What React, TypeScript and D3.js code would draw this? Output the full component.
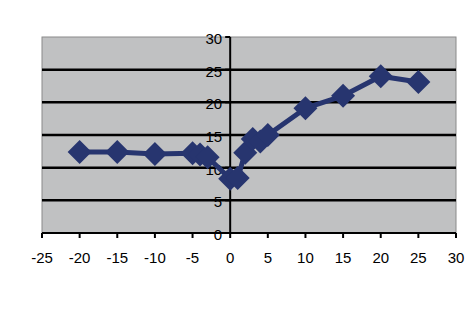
import React from "react";
import * as d3 from "d3";

const xValues = [-20, -15, -10, -5, -4, -3, 0, 1, 2, 3, 4, 5, 10, 15, 20, 25];
const yValues = [12.4, 12.4, 12.1, 12.2, 12.0, 11.6, 8.3, 8.4, 12.3, 14.4, 14.0, 15.0, 19.1, 21.0, 24.0, 23.1];
const xTicks = [-25, -20, -15, -10, -5, 0, 5, 10, 15, 20, 25, 30];
const yTicks = [0, 5, 10, 15, 20, 25, 30];

const W = 472;
const H = 333;
const left = 42;
const right = 456;
const top = 37;
const bottom = 233;
const navy = "#27356f";
const font = "'Liberation Sans', Arial, sans-serif";

export default function App() {
  const x = d3.scaleLinear().domain([-25, 30]).range([left, right]);
  const y = d3.scaleLinear().domain([0, 30]).range([bottom, top]);
  const data = xValues.map((v, i) => [v, yValues[i]] as [number, number]);
  const line = d3
    .line<[number, number]>()
    .x((d) => x(d[0]))
    .y((d) => y(d[1]));
  const r = 12;
  const diamond = `M0,${-r}L${r},0L0,${r}L${-r},0Z`;

  return (
    <svg
      width={W}
      height={H}
      style={{ position: "absolute", left: 0, top: 0, background: "#fff" }}
    >
      <rect x={left} y={top} width={right - left} height={bottom - top} fill="#c0c1c2" stroke="#8a8a8a" strokeWidth={1} />
      {yTicks
        .filter((t) => t > 0 && t < 30)
        .map((t) => (
          <line key={"g" + t} x1={left} x2={right} y1={y(t)} y2={y(t)} stroke="#000" strokeWidth={2.5} />
        ))}
      {/* x axis */}
      <line x1={left} x2={right} y1={y(0)} y2={y(0)} stroke="#000" strokeWidth={2} />
      {xTicks.map((t) => (
        <g key={"xt" + t}>
          <line x1={x(t)} x2={x(t)} y1={y(0)} y2={y(0) + 5} stroke="#000" strokeWidth={2} />
          <text x={x(t)} y={263} textAnchor="middle" fontFamily={font} fontSize={15} fill="#000">
            {t}
          </text>
        </g>
      ))}
      {/* y axis */}
      <line x1={x(0)} x2={x(0)} y1={top} y2={bottom} stroke="#000" strokeWidth={2} />
      {yTicks.map((t) => (
        <g key={"yt" + t}>
          <line x1={x(0) - 5} x2={x(0)} y1={y(t)} y2={y(t)} stroke="#000" strokeWidth={2} />
          <text x={x(0) - 8} y={y(t) + 7} textAnchor="end" fontFamily={font} fontSize={15} fill="#000">
            {t}
          </text>
        </g>
      ))}
      <path d={line(data) || ""} fill="none" stroke={navy} strokeWidth={5} strokeLinejoin="round" />
      {data.map((d, i) => (
        <path key={"m" + i} d={diamond} transform={`translate(${x(d[0])},${y(d[1])})`} fill={navy} />
      ))}
    </svg>
  );
}
